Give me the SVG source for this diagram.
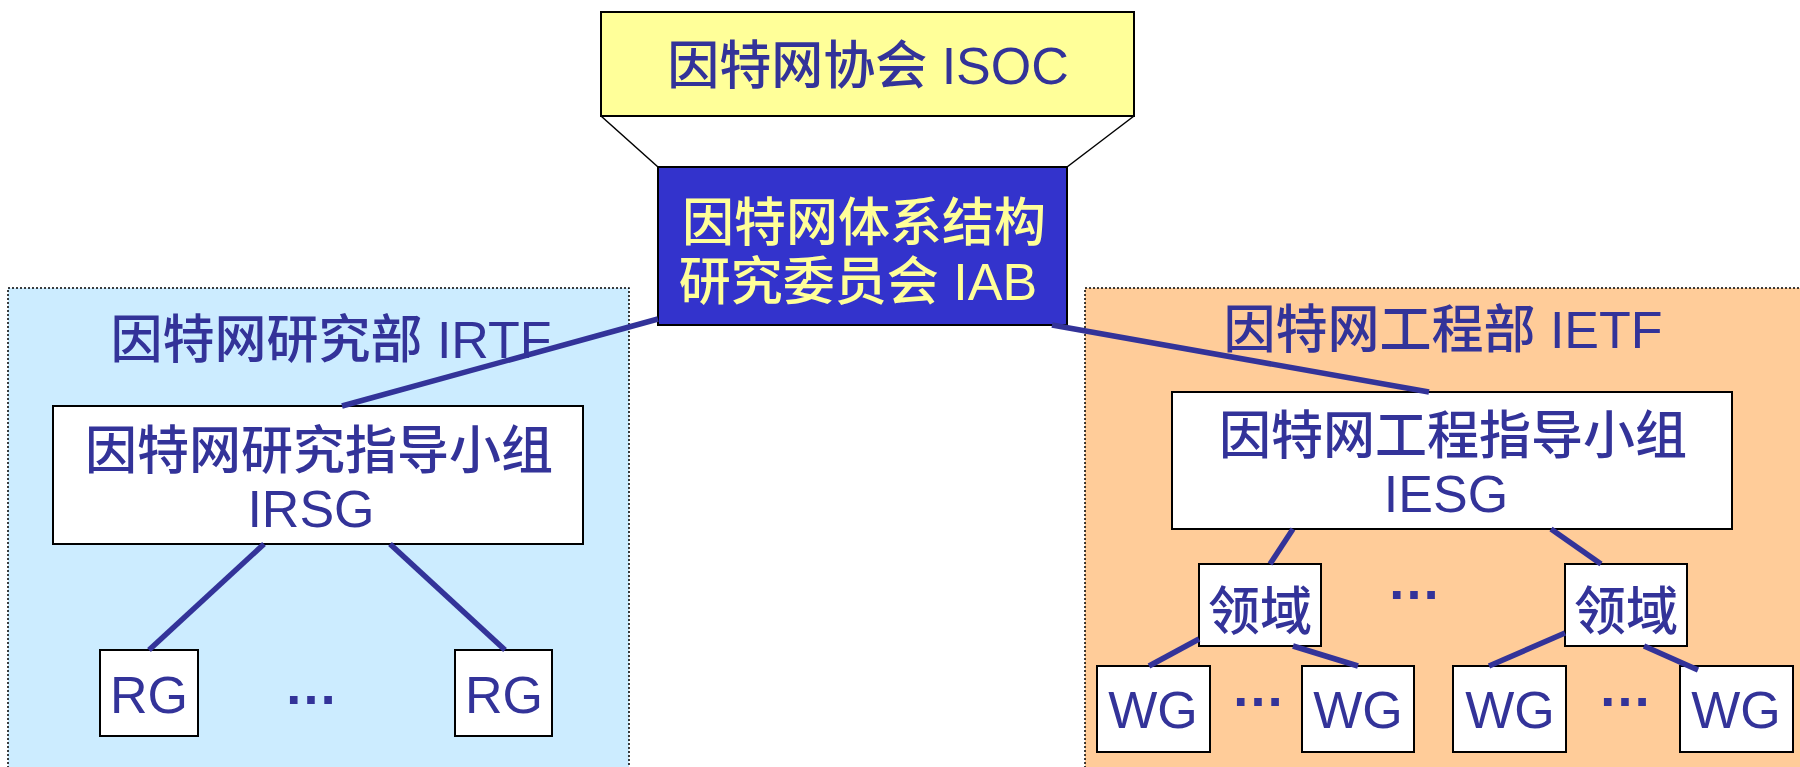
<svg xmlns="http://www.w3.org/2000/svg" width="1800" height="767" viewBox="0 0 1800 767">
<style>
text{font-family:"Liberation Sans","Noto Sans CJK SC",sans-serif;font-size:52px;font-weight:500;fill:#333399;text-anchor:middle}
.box{fill:#fff;stroke:#000;stroke-width:2}
.region{stroke:#000;stroke-width:1.5;stroke-dasharray:2 2}
.conn{stroke:#333399;stroke-width:5.5;fill:none;stroke-linecap:butt}
.thin{stroke:#000;stroke-width:1.5;fill:none}
.dots{font-family:"Liberation Sans",sans-serif;font-size:54px;font-weight:bold}
</style>
<rect width="1800" height="767" fill="#fff"/>
<g id="irtf">
<rect class="region" x="8" y="288" width="621" height="485" fill="#CCECFF"/>
<text x="331" y="358">因特网研究部 IRTF</text>
</g>
<g id="ietf">
<rect class="region" x="1085" y="288" width="725" height="485" fill="#FFCC99"/>
<text x="1443" y="348">因特网工程部 IETF</text>
</g>
<g id="isoc">
<rect class="box" x="601" y="12" width="533" height="104" style="fill:#FFFF99"/>
<text x="868" y="84">因特网协会 ISOC</text>
</g>
<g id="isoc-iab-link">
<line class="thin" x1="601" y1="116" x2="658" y2="167"/>
<line class="thin" x1="1134" y1="116" x2="1067" y2="167"/>
</g>
<g id="iab">
<rect class="box" x="658" y="167" width="409" height="158" style="fill:#3333CC"/>
<text x="864" y="241" style="fill:#FFFF99">因特网体系结构</text>
<text x="858" y="300" style="fill:#FFFF99">研究委员会 IAB</text>
</g>
<g id="irsg">
<rect class="box" x="53" y="406" width="530" height="138"/>
<text x="319" y="469">因特网研究指导小组</text>
<text x="311" y="527">IRSG</text>
</g>
<g id="rg1">
<rect class="box" x="100" y="650" width="98" height="86"/>
<text x="149" y="713">RG</text>
</g>
<g id="rg2">
<rect class="box" x="455" y="650" width="97" height="86"/>
<text x="504" y="713">RG</text>
</g>
<text class="dots" x="311" y="704">…</text>
<g id="iesg">
<rect class="box" x="1172" y="392" width="560" height="137"/>
<text x="1453" y="454">因特网工程指导小组</text>
<text x="1446" y="512">IESG</text>
</g>
<g id="area1">
<rect class="box" x="1199" y="564" width="122" height="82"/>
<text x="1260" y="630">领域</text>
</g>
<g id="area2">
<rect class="box" x="1565" y="564" width="122" height="82"/>
<text x="1626" y="630">领域</text>
</g>
<text class="dots" x="1414" y="599">…</text>
<g id="wg1">
<rect class="box" x="1097" y="666" width="113" height="86"/>
<text x="1153" y="728">WG</text>
</g>
<g id="wg2">
<rect class="box" x="1302" y="666" width="112" height="86"/>
<text x="1358" y="728">WG</text>
</g>
<g id="wg3">
<rect class="box" x="1453" y="666" width="113" height="86"/>
<text x="1510" y="728">WG</text>
</g>
<g id="wg4">
<rect class="box" x="1680" y="666" width="113" height="86"/>
<text x="1736" y="728">WG</text>
</g>
<text class="dots" x="1258" y="706">…</text>
<text class="dots" x="1625" y="706">…</text>
<g id="connectors">
<line class="conn" x1="658" y1="319" x2="342" y2="406"/>
<line class="conn" x1="1052" y1="325" x2="1429" y2="392"/>
<line class="conn" x1="264" y1="544" x2="149" y2="650"/>
<line class="conn" x1="390" y1="544" x2="505" y2="650"/>
<line class="conn" x1="1293" y1="529" x2="1270" y2="564"/>
<line class="conn" x1="1551" y1="529" x2="1601" y2="564"/>
<line class="conn" x1="1199" y1="639" x2="1149" y2="666"/>
<line class="conn" x1="1293" y1="646" x2="1358" y2="666"/>
<line class="conn" x1="1565" y1="633" x2="1489" y2="666"/>
<line class="conn" x1="1644" y1="646" x2="1698" y2="670"/>
</g>
</svg>
